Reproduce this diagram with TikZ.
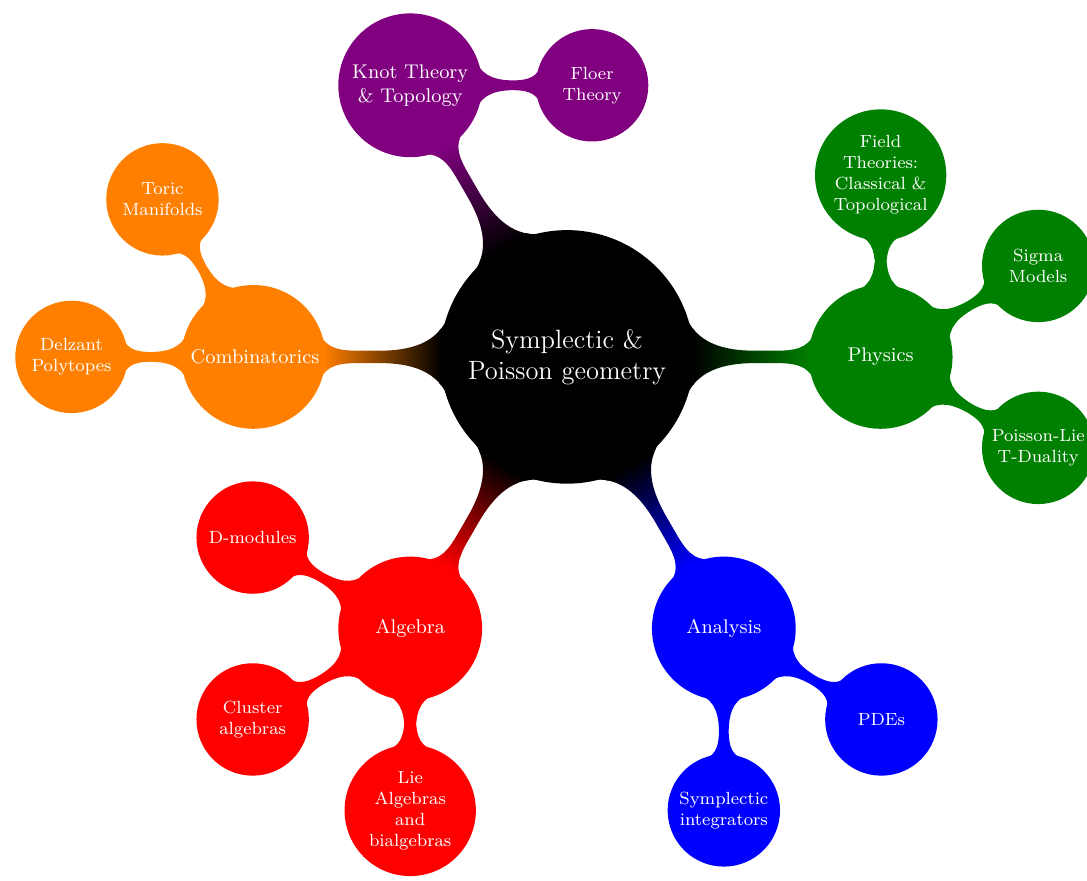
\documentclass[tikz,border=0pt]{standalone}
\usetikzlibrary{mindmap}
\begin{document}
\begin{tikzpicture}[mindmap, concept color=black, text=white]
\useasboundingbox (-9.04,-8.34) rectangle (8.29,5.69);
\node (root) [concept] {Symplectic \& Poisson geometry}
  child[concept color=green!50!black, grow=0] { node (phys) [concept] {Physics}
     child[grow=90] { node (ft) [concept] {Field Theories: Classical \& Topological} }
     child[grow=30] { node (sigma) [concept] {Sigma Models} }
     child[grow=-30] { node (pl) [concept] {Poisson-Lie T-Duality} }
  }
  child[concept color=blue, grow=-60] { node (ana) [concept] {Analysis}
     child[grow=-30] { node (pde) [concept] {PDEs} }
     child[grow=-90] { node (si) [concept] {Symplectic integrators} }
  }
  child[concept color=red, grow=-120] { node (alg) [concept] {Algebra}
     child[grow=150] { node (dmod) [concept] {D-modules} }
     child[grow=210] { node (clus) [concept] {Cluster algebras} }
     child[grow=-90] { node (lie) [concept] {Lie Algebras and bialgebras} }
  }
  child[concept color=orange, grow=180] { node (comb) [concept] {Combinatorics}
     child[grow=120] { node (toric) [concept] {Toric Manifolds} }
     child[grow=180] { node (delz) [concept] {Delzant Polytopes} }
  }
  child[concept color=violet, grow=120] { node (knot) [concept] {Knot Theory \& Topology}
     child[grow=0] { node (floer) [concept] {Floer Theory} }
  };
\end{tikzpicture}
\end{document}
